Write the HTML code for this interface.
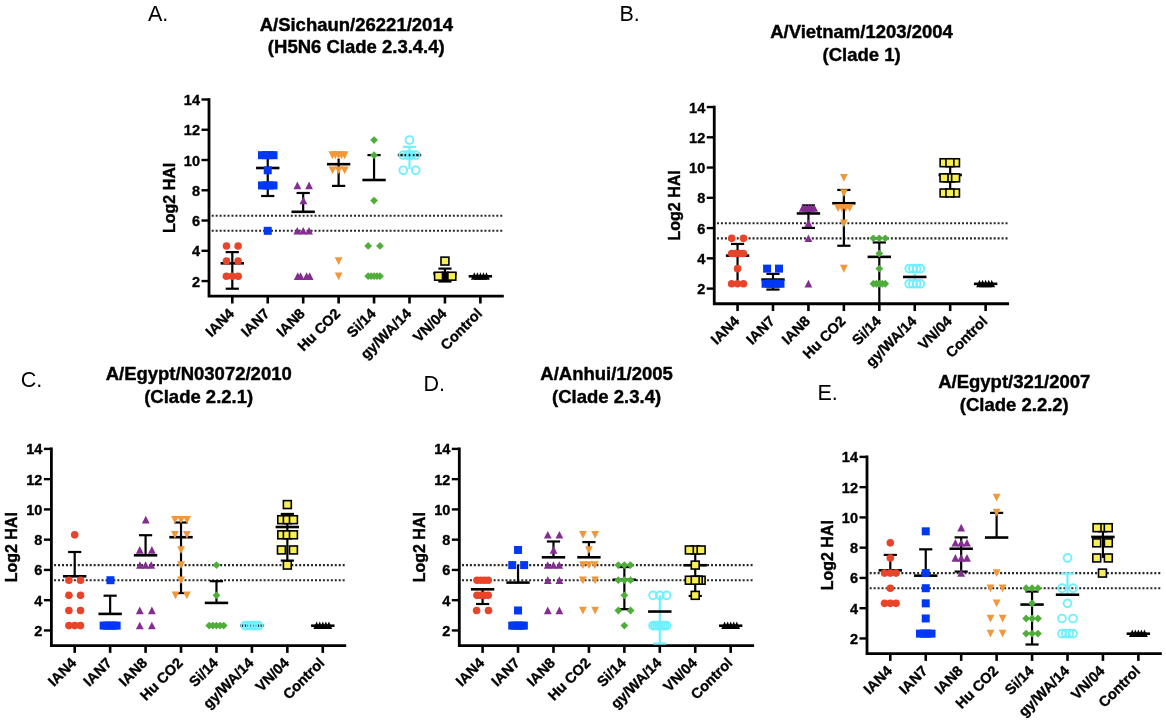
<!DOCTYPE html>
<html><head><meta charset="utf-8"><style>
html,body{margin:0;padding:0;background:#fff;}
svg{display:block;will-change:transform;}
text{font-family:"Liberation Sans",sans-serif;}
.tt{font-size:18.5px;font-weight:bold;text-anchor:middle;stroke:#000;stroke-width:0.4px;}
.lt{font-size:21.5px;}
.yl{font-size:16px;font-weight:bold;text-anchor:middle;stroke:#000;stroke-width:0.4px;}
.tk{font-size:14.5px;font-weight:bold;text-anchor:end;stroke:#000;stroke-width:0.35px;}
.xl{font-size:14.5px;font-weight:bold;text-anchor:end;stroke:#000;stroke-width:0.35px;}
</style></head><body>
<svg width="1166" height="724" viewBox="0 0 1166 724">
<rect width="1166" height="724" fill="#fff"/>
<text x="356.3" y="30.8" class="tt">A/Sichaun/26221/2014</text>
<text x="356.3" y="53.3" class="tt">(H5N6 Clade 2.3.4.4)</text>
<text x="148" y="20.9" class="lt">A.</text>
<text transform="translate(174.9 197.84) rotate(-90)" class="yl">Log2 HAI</text>
<line x1="211.7" y1="215.69" x2="502.3" y2="215.69" stroke="#262626" stroke-width="2.1" stroke-dasharray="2 1.953"/>
<line x1="211.7" y1="230.82" x2="502.3" y2="230.82" stroke="#262626" stroke-width="2.1" stroke-dasharray="2 1.953"/>
<path d="M209 98.19V296.2H503.8" fill="none" stroke="#000" stroke-width="2.8" stroke-linejoin="miter"/>
<line x1="201.5" y1="281.05" x2="209" y2="281.05" stroke="#000" stroke-width="2.4"/>
<text x="200" y="286.55" class="tk">2</text>
<line x1="201.5" y1="250.79" x2="209" y2="250.79" stroke="#000" stroke-width="2.4"/>
<text x="200" y="256.29" class="tk">4</text>
<line x1="201.5" y1="220.53" x2="209" y2="220.53" stroke="#000" stroke-width="2.4"/>
<text x="200" y="226.03" class="tk">6</text>
<line x1="201.5" y1="190.27" x2="209" y2="190.27" stroke="#000" stroke-width="2.4"/>
<text x="200" y="195.77" class="tk">8</text>
<line x1="201.5" y1="160.01" x2="209" y2="160.01" stroke="#000" stroke-width="2.4"/>
<text x="200" y="165.51" class="tk">10</text>
<line x1="201.5" y1="129.75" x2="209" y2="129.75" stroke="#000" stroke-width="2.4"/>
<text x="200" y="135.25" class="tk">12</text>
<line x1="201.5" y1="99.49" x2="209" y2="99.49" stroke="#000" stroke-width="2.4"/>
<text x="200" y="104.99" class="tk">14</text>
<line x1="232.3" y1="296.2" x2="232.3" y2="303.5" stroke="#000" stroke-width="2.6"/>
<text transform="translate(234.9 314.5) rotate(-45)" class="xl">IAN4</text>
<line x1="267.74" y1="296.2" x2="267.74" y2="303.5" stroke="#000" stroke-width="2.6"/>
<text transform="translate(270.34 314.5) rotate(-45)" class="xl">IAN7</text>
<line x1="303.18" y1="296.2" x2="303.18" y2="303.5" stroke="#000" stroke-width="2.6"/>
<text transform="translate(305.78 314.5) rotate(-45)" class="xl">IAN8</text>
<line x1="338.62" y1="296.2" x2="338.62" y2="303.5" stroke="#000" stroke-width="2.6"/>
<text transform="translate(341.22 314.5) rotate(-45)" class="xl">Hu CO2</text>
<line x1="374.06" y1="296.2" x2="374.06" y2="303.5" stroke="#000" stroke-width="2.6"/>
<text transform="translate(376.66 314.5) rotate(-45)" class="xl">Si/14</text>
<line x1="409.5" y1="296.2" x2="409.5" y2="303.5" stroke="#000" stroke-width="2.6"/>
<text transform="translate(412.1 314.5) rotate(-45)" class="xl">gy/WA/14</text>
<line x1="444.94" y1="296.2" x2="444.94" y2="303.5" stroke="#000" stroke-width="2.6"/>
<text transform="translate(447.54 314.5) rotate(-45)" class="xl">VN/04</text>
<line x1="480.38" y1="296.2" x2="480.38" y2="303.5" stroke="#000" stroke-width="2.6"/>
<text transform="translate(482.98 314.5) rotate(-45)" class="xl">Control</text>
<line x1="232.3" y1="252.11" x2="232.3" y2="288.71" stroke="#000" stroke-width="2.2"/>
<line x1="225.7" y1="252.11" x2="238.9" y2="252.11" stroke="#000" stroke-width="2.2"/>
<line x1="225.7" y1="288.71" x2="238.9" y2="288.71" stroke="#000" stroke-width="2.2"/>
<line x1="220.6" y1="263.3" x2="244" y2="263.3" stroke="#000" stroke-width="2.6"/>
<circle cx="226.5" cy="245.95" r="3.8" fill="#e8442a"/>
<circle cx="238.1" cy="245.95" r="3.8" fill="#e8442a"/>
<circle cx="226.5" cy="261.08" r="3.8" fill="#e8442a"/>
<circle cx="238.1" cy="261.08" r="3.8" fill="#e8442a"/>
<circle cx="226.4" cy="276.21" r="3.8" fill="#e8442a"/>
<circle cx="232.3" cy="276.21" r="3.8" fill="#e8442a"/>
<circle cx="238.2" cy="276.21" r="3.8" fill="#e8442a"/>
<line x1="267.74" y1="155.02" x2="267.74" y2="196" stroke="#000" stroke-width="2.2"/>
<line x1="261.14" y1="196" x2="274.34" y2="196" stroke="#000" stroke-width="2.2"/>
<line x1="256.04" y1="168" x2="279.44" y2="168" stroke="#000" stroke-width="2.6"/>
<rect x="257.99" y="151.17" width="8" height="8" fill="#0237f3"/>
<rect x="261.82" y="151.17" width="8" height="8" fill="#0237f3"/>
<rect x="265.66" y="151.17" width="8" height="8" fill="#0237f3"/>
<rect x="269.49" y="151.17" width="8" height="8" fill="#0237f3"/>
<rect x="263.74" y="166.3" width="8" height="8" fill="#0237f3"/>
<rect x="257.99" y="181.43" width="8" height="8" fill="#0237f3"/>
<rect x="261.82" y="181.43" width="8" height="8" fill="#0237f3"/>
<rect x="265.66" y="181.43" width="8" height="8" fill="#0237f3"/>
<rect x="269.49" y="181.43" width="8" height="8" fill="#0237f3"/>
<rect x="263.74" y="226.82" width="8" height="8" fill="#0237f3"/>
<line x1="303.18" y1="192.99" x2="303.18" y2="211.8" stroke="#000" stroke-width="2.2"/>
<line x1="296.58" y1="192.99" x2="309.78" y2="192.99" stroke="#000" stroke-width="2.2"/>
<line x1="291.48" y1="211.8" x2="314.88" y2="211.8" stroke="#000" stroke-width="2.6"/>
<path d="M297.38 181.53L301.28 189.13L293.48 189.13Z" fill="#842d91"/>
<path d="M309.08 181.53L312.98 189.13L305.18 189.13Z" fill="#842d91"/>
<path d="M303.38 196.66L307.28 204.26L299.48 204.26Z" fill="#842d91"/>
<path d="M297.28 226.92L301.18 234.52L293.38 234.52Z" fill="#842d91"/>
<path d="M303.18 226.92L307.08 234.52L299.28 234.52Z" fill="#842d91"/>
<path d="M309.08 226.92L312.98 234.52L305.18 234.52Z" fill="#842d91"/>
<path d="M297.68 272.31L301.58 279.91L293.78 279.91Z" fill="#842d91"/>
<path d="M300.58 272.31L304.48 279.91L296.68 279.91Z" fill="#842d91"/>
<path d="M306.58 272.31L310.48 279.91L302.68 279.91Z" fill="#842d91"/>
<path d="M309.68 272.31L313.58 279.91L305.78 279.91Z" fill="#842d91"/>
<line x1="338.62" y1="158.5" x2="338.62" y2="185.9" stroke="#000" stroke-width="2.2"/>
<line x1="332.02" y1="185.9" x2="345.22" y2="185.9" stroke="#000" stroke-width="2.2"/>
<line x1="326.92" y1="164.2" x2="350.32" y2="164.2" stroke="#000" stroke-width="2.6"/>
<path d="M328.52 151.37L336.32 151.37L332.42 159.17Z" fill="#f0983a"/>
<path d="M331.42 151.37L339.22 151.37L335.32 159.17Z" fill="#f0983a"/>
<path d="M334.72 151.37L342.52 151.37L338.62 159.17Z" fill="#f0983a"/>
<path d="M337.62 151.37L345.42 151.37L341.52 159.17Z" fill="#f0983a"/>
<path d="M340.72 151.37L348.52 151.37L344.62 159.17Z" fill="#f0983a"/>
<path d="M328.62 166.5L336.42 166.5L332.52 174.3Z" fill="#f0983a"/>
<path d="M334.72 166.5L342.52 166.5L338.62 174.3Z" fill="#f0983a"/>
<path d="M340.82 166.5L348.62 166.5L344.72 174.3Z" fill="#f0983a"/>
<path d="M334.72 257.28L342.52 257.28L338.62 265.08Z" fill="#f0983a"/>
<path d="M334.72 272.41L342.52 272.41L338.62 280.21Z" fill="#f0983a"/>
<line x1="374.06" y1="155.09" x2="374.06" y2="180" stroke="#000" stroke-width="2.2"/>
<line x1="367.46" y1="155.09" x2="380.66" y2="155.09" stroke="#000" stroke-width="2.2"/>
<line x1="362.36" y1="180" x2="385.76" y2="180" stroke="#000" stroke-width="2.6"/>
<path d="M374.06 136.14L377.96 140.04L374.06 143.94L370.16 140.04Z" fill="#4fae3a"/>
<path d="M374.06 151.27L377.96 155.17L374.06 159.07L370.16 155.17Z" fill="#4fae3a"/>
<path d="M374.06 196.66L377.96 200.56L374.06 204.46L370.16 200.56Z" fill="#4fae3a"/>
<path d="M368.16 242.05L372.06 245.95L368.16 249.85L364.26 245.95Z" fill="#4fae3a"/>
<path d="M379.96 242.05L383.86 245.95L379.96 249.85L376.06 245.95Z" fill="#4fae3a"/>
<path d="M368.16 272.31L372.06 276.21L368.16 280.11L364.26 276.21Z" fill="#4fae3a"/>
<path d="M371.11 272.31L375.01 276.21L371.11 280.11L367.21 276.21Z" fill="#4fae3a"/>
<path d="M374.06 272.31L377.96 276.21L374.06 280.11L370.16 276.21Z" fill="#4fae3a"/>
<path d="M377.01 272.31L380.91 276.21L377.01 280.11L373.11 276.21Z" fill="#4fae3a"/>
<path d="M379.96 272.31L383.86 276.21L379.96 280.11L376.06 276.21Z" fill="#4fae3a"/>
<line x1="409.5" y1="146.85" x2="409.5" y2="169.09" stroke="#70f0ff" stroke-width="2.2"/>
<line x1="402.9" y1="146.85" x2="416.1" y2="146.85" stroke="#70f0ff" stroke-width="2.2"/>
<line x1="397.8" y1="155.09" x2="421.2" y2="155.09" stroke="#000" stroke-width="2.6"/>
<circle cx="409.5" cy="140.04" r="3.9" fill="none" stroke="#70f0ff" stroke-width="1.9"/>
<circle cx="403.3" cy="155.17" r="3.9" fill="none" stroke="#70f0ff" stroke-width="1.9"/>
<circle cx="407.43" cy="155.17" r="3.9" fill="none" stroke="#70f0ff" stroke-width="1.9"/>
<circle cx="411.57" cy="155.17" r="3.9" fill="none" stroke="#70f0ff" stroke-width="1.9"/>
<circle cx="415.7" cy="155.17" r="3.9" fill="none" stroke="#70f0ff" stroke-width="1.9"/>
<circle cx="403.3" cy="170.3" r="3.9" fill="none" stroke="#70f0ff" stroke-width="1.9"/>
<circle cx="415.7" cy="170.3" r="3.9" fill="none" stroke="#70f0ff" stroke-width="1.9"/>
<line x1="444.94" y1="268.6" x2="444.94" y2="281.5" stroke="#000" stroke-width="2.2"/>
<line x1="438.34" y1="268.6" x2="451.54" y2="268.6" stroke="#000" stroke-width="2.2"/>
<line x1="438.34" y1="281.5" x2="451.54" y2="281.5" stroke="#000" stroke-width="2.2"/>
<line x1="433.24" y1="273.49" x2="456.64" y2="273.49" stroke="#000" stroke-width="2.6"/>
<rect x="440.99" y="257.13" width="7.9" height="7.9" fill="#f8ef55" stroke="#000" stroke-width="1.6"/>
<rect x="441.64" y="271.46" width="7" height="9.5" fill="#000"/>
<rect x="434.59" y="272.26" width="7.9" height="7.9" fill="#f8ef55" stroke="#000" stroke-width="1.6"/>
<rect x="447.89" y="272.26" width="7.9" height="7.9" fill="#f8ef55" stroke="#000" stroke-width="1.6"/>
<line x1="468.68" y1="276.3" x2="492.08" y2="276.3" stroke="#000" stroke-width="2.6"/>
<path d="M474.28 272.21L477.58 279.71L470.98 279.71Z" fill="#000"/>
<path d="M477.33 272.21L480.63 279.71L474.03 279.71Z" fill="#000"/>
<path d="M480.38 272.21L483.68 279.71L477.08 279.71Z" fill="#000"/>
<path d="M483.43 272.21L486.73 279.71L480.13 279.71Z" fill="#000"/>
<path d="M486.48 272.21L489.78 279.71L483.18 279.71Z" fill="#000"/>
<text x="861.55" y="38" class="tt">A/Vietnam/1203/2004</text>
<text x="861.55" y="60.5" class="tt">(Clade 1)</text>
<text x="619.5" y="20.5" class="lt">B.</text>
<text transform="translate(680.15 205.4) rotate(-90)" class="yl">Log2 HAI</text>
<line x1="716.95" y1="223.24" x2="1007.55" y2="223.24" stroke="#262626" stroke-width="2.1" stroke-dasharray="2 1.953"/>
<line x1="716.95" y1="238.37" x2="1007.55" y2="238.37" stroke="#262626" stroke-width="2.1" stroke-dasharray="2 1.953"/>
<path d="M714.25 105.74V303.75H1009.05" fill="none" stroke="#000" stroke-width="2.8" stroke-linejoin="miter"/>
<line x1="706.75" y1="288.6" x2="714.25" y2="288.6" stroke="#000" stroke-width="2.4"/>
<text x="705.25" y="294.1" class="tk">2</text>
<line x1="706.75" y1="258.34" x2="714.25" y2="258.34" stroke="#000" stroke-width="2.4"/>
<text x="705.25" y="263.84" class="tk">4</text>
<line x1="706.75" y1="228.08" x2="714.25" y2="228.08" stroke="#000" stroke-width="2.4"/>
<text x="705.25" y="233.58" class="tk">6</text>
<line x1="706.75" y1="197.82" x2="714.25" y2="197.82" stroke="#000" stroke-width="2.4"/>
<text x="705.25" y="203.32" class="tk">8</text>
<line x1="706.75" y1="167.56" x2="714.25" y2="167.56" stroke="#000" stroke-width="2.4"/>
<text x="705.25" y="173.06" class="tk">10</text>
<line x1="706.75" y1="137.3" x2="714.25" y2="137.3" stroke="#000" stroke-width="2.4"/>
<text x="705.25" y="142.8" class="tk">12</text>
<line x1="706.75" y1="107.04" x2="714.25" y2="107.04" stroke="#000" stroke-width="2.4"/>
<text x="705.25" y="112.54" class="tk">14</text>
<line x1="737.55" y1="303.75" x2="737.55" y2="311.05" stroke="#000" stroke-width="2.6"/>
<text transform="translate(740.15 322.05) rotate(-45)" class="xl">IAN4</text>
<line x1="772.99" y1="303.75" x2="772.99" y2="311.05" stroke="#000" stroke-width="2.6"/>
<text transform="translate(775.59 322.05) rotate(-45)" class="xl">IAN7</text>
<line x1="808.43" y1="303.75" x2="808.43" y2="311.05" stroke="#000" stroke-width="2.6"/>
<text transform="translate(811.03 322.05) rotate(-45)" class="xl">IAN8</text>
<line x1="843.87" y1="303.75" x2="843.87" y2="311.05" stroke="#000" stroke-width="2.6"/>
<text transform="translate(846.47 322.05) rotate(-45)" class="xl">Hu CO2</text>
<line x1="879.31" y1="303.75" x2="879.31" y2="311.05" stroke="#000" stroke-width="2.6"/>
<text transform="translate(881.91 322.05) rotate(-45)" class="xl">Si/14</text>
<line x1="914.75" y1="303.75" x2="914.75" y2="311.05" stroke="#000" stroke-width="2.6"/>
<text transform="translate(917.35 322.05) rotate(-45)" class="xl">gy/WA/14</text>
<line x1="950.19" y1="303.75" x2="950.19" y2="311.05" stroke="#000" stroke-width="2.6"/>
<text transform="translate(952.79 322.05) rotate(-45)" class="xl">VN/04</text>
<line x1="985.63" y1="303.75" x2="985.63" y2="311.05" stroke="#000" stroke-width="2.6"/>
<text transform="translate(988.23 322.05) rotate(-45)" class="xl">Control</text>
<line x1="737.55" y1="243.95" x2="737.55" y2="283.76" stroke="#000" stroke-width="2.2"/>
<line x1="730.95" y1="243.95" x2="744.15" y2="243.95" stroke="#000" stroke-width="2.2"/>
<line x1="725.85" y1="255.65" x2="749.25" y2="255.65" stroke="#000" stroke-width="2.6"/>
<circle cx="731.7" cy="238.37" r="3.8" fill="#e8442a"/>
<circle cx="743.5" cy="238.37" r="3.8" fill="#e8442a"/>
<circle cx="731.7" cy="253.5" r="3.8" fill="#e8442a"/>
<circle cx="735.6" cy="253.5" r="3.8" fill="#e8442a"/>
<circle cx="739.5" cy="253.5" r="3.8" fill="#e8442a"/>
<circle cx="743.4" cy="253.5" r="3.8" fill="#e8442a"/>
<circle cx="737.55" cy="268.63" r="3.8" fill="#e8442a"/>
<circle cx="731.65" cy="283.76" r="3.8" fill="#e8442a"/>
<circle cx="737.55" cy="283.76" r="3.8" fill="#e8442a"/>
<circle cx="743.45" cy="283.76" r="3.8" fill="#e8442a"/>
<line x1="772.99" y1="273.85" x2="772.99" y2="289.55" stroke="#000" stroke-width="2.2"/>
<line x1="766.39" y1="273.85" x2="779.59" y2="273.85" stroke="#000" stroke-width="2.2"/>
<line x1="766.39" y1="289.55" x2="779.59" y2="289.55" stroke="#000" stroke-width="2.2"/>
<line x1="761.29" y1="279.55" x2="784.69" y2="279.55" stroke="#000" stroke-width="2.6"/>
<rect x="763.09" y="264.63" width="8" height="8" fill="#0237f3"/>
<rect x="774.99" y="264.63" width="8" height="8" fill="#0237f3"/>
<rect x="761.54" y="279.76" width="8" height="8" fill="#0237f3"/>
<rect x="765.26" y="279.76" width="8" height="8" fill="#0237f3"/>
<rect x="768.99" y="279.76" width="8" height="8" fill="#0237f3"/>
<rect x="772.72" y="279.76" width="8" height="8" fill="#0237f3"/>
<rect x="776.44" y="279.76" width="8" height="8" fill="#0237f3"/>
<line x1="808.43" y1="205.39" x2="808.43" y2="227.94" stroke="#000" stroke-width="2.2"/>
<line x1="801.83" y1="205.39" x2="815.03" y2="205.39" stroke="#000" stroke-width="2.2"/>
<line x1="801.83" y1="227.94" x2="815.03" y2="227.94" stroke="#000" stroke-width="2.2"/>
<line x1="796.73" y1="213.45" x2="820.13" y2="213.45" stroke="#000" stroke-width="2.6"/>
<path d="M802.68 204.21L806.58 211.81L798.78 211.81Z" fill="#842d91"/>
<path d="M805.55 204.21L809.45 211.81L801.65 211.81Z" fill="#842d91"/>
<path d="M808.43 204.21L812.33 211.81L804.53 211.81Z" fill="#842d91"/>
<path d="M811.3 204.21L815.2 211.81L807.4 211.81Z" fill="#842d91"/>
<path d="M814.18 204.21L818.08 211.81L810.28 211.81Z" fill="#842d91"/>
<path d="M808.43 219.34L812.33 226.94L804.53 226.94Z" fill="#842d91"/>
<path d="M808.43 234.47L812.33 242.07L804.53 242.07Z" fill="#842d91"/>
<path d="M808.43 279.86L812.33 287.46L804.53 287.46Z" fill="#842d91"/>
<line x1="843.87" y1="189.95" x2="843.87" y2="245.75" stroke="#000" stroke-width="2.2"/>
<line x1="837.27" y1="189.95" x2="850.47" y2="189.95" stroke="#000" stroke-width="2.2"/>
<line x1="837.27" y1="245.75" x2="850.47" y2="245.75" stroke="#000" stroke-width="2.2"/>
<line x1="832.17" y1="203.25" x2="855.57" y2="203.25" stroke="#000" stroke-width="2.6"/>
<path d="M839.97 174.05L847.77 174.05L843.87 181.85Z" fill="#f0983a"/>
<path d="M839.97 189.18L847.77 189.18L843.87 196.98Z" fill="#f0983a"/>
<path d="M834.17 204.31L841.97 204.31L838.07 212.11Z" fill="#f0983a"/>
<path d="M838.04 204.31L845.84 204.31L841.94 212.11Z" fill="#f0983a"/>
<path d="M841.9 204.31L849.7 204.31L845.8 212.11Z" fill="#f0983a"/>
<path d="M845.77 204.31L853.57 204.31L849.67 212.11Z" fill="#f0983a"/>
<path d="M839.97 219.44L847.77 219.44L843.87 227.24Z" fill="#f0983a"/>
<path d="M839.97 264.83L847.77 264.83L843.87 272.63Z" fill="#f0983a"/>
<line x1="879.31" y1="242.45" x2="879.31" y2="303.73" stroke="#000" stroke-width="2.2"/>
<line x1="872.71" y1="242.45" x2="885.91" y2="242.45" stroke="#000" stroke-width="2.2"/>
<line x1="867.61" y1="256.86" x2="891.01" y2="256.86" stroke="#000" stroke-width="2.6"/>
<path d="M873.31 234.47L877.21 238.37L873.31 242.27L869.41 238.37Z" fill="#4fae3a"/>
<path d="M879.31 234.47L883.21 238.37L879.31 242.27L875.41 238.37Z" fill="#4fae3a"/>
<path d="M885.31 234.47L889.21 238.37L885.31 242.27L881.41 238.37Z" fill="#4fae3a"/>
<path d="M879.31 249.6L883.21 253.5L879.31 257.4L875.41 253.5Z" fill="#4fae3a"/>
<path d="M879.31 264.73L883.21 268.63L879.31 272.53L875.41 268.63Z" fill="#4fae3a"/>
<path d="M873.41 279.86L877.31 283.76L873.41 287.66L869.51 283.76Z" fill="#4fae3a"/>
<path d="M876.36 279.86L880.26 283.76L876.36 287.66L872.46 283.76Z" fill="#4fae3a"/>
<path d="M879.31 279.86L883.21 283.76L879.31 287.66L875.41 283.76Z" fill="#4fae3a"/>
<path d="M882.26 279.86L886.16 283.76L882.26 287.66L878.36 283.76Z" fill="#4fae3a"/>
<path d="M885.21 279.86L889.11 283.76L885.21 287.66L881.31 283.76Z" fill="#4fae3a"/>
<line x1="914.75" y1="273.47" x2="914.75" y2="281.04" stroke="#70f0ff" stroke-width="2.2"/>
<line x1="903.05" y1="276.95" x2="926.45" y2="276.95" stroke="#000" stroke-width="2.6"/>
<circle cx="909.2" cy="268.63" r="3.9" fill="none" stroke="#70f0ff" stroke-width="1.9"/>
<circle cx="912.9" cy="268.63" r="3.9" fill="none" stroke="#70f0ff" stroke-width="1.9"/>
<circle cx="916.6" cy="268.63" r="3.9" fill="none" stroke="#70f0ff" stroke-width="1.9"/>
<circle cx="920.3" cy="268.63" r="3.9" fill="none" stroke="#70f0ff" stroke-width="1.9"/>
<circle cx="909.2" cy="283.76" r="3.9" fill="none" stroke="#70f0ff" stroke-width="1.9"/>
<circle cx="912.9" cy="283.76" r="3.9" fill="none" stroke="#70f0ff" stroke-width="1.9"/>
<circle cx="916.6" cy="283.76" r="3.9" fill="none" stroke="#70f0ff" stroke-width="1.9"/>
<circle cx="920.3" cy="283.76" r="3.9" fill="none" stroke="#70f0ff" stroke-width="1.9"/>
<line x1="950.19" y1="162.72" x2="950.19" y2="192.98" stroke="#000" stroke-width="2.2"/>
<line x1="938.49" y1="174.97" x2="961.89" y2="174.97" stroke="#000" stroke-width="2.6"/>
<rect x="940.14" y="158.77" width="7.9" height="7.9" fill="#f8ef55" stroke="#000" stroke-width="1.6"/>
<rect x="951.54" y="158.77" width="7.9" height="7.9" fill="#f8ef55" stroke="#000" stroke-width="1.6"/>
<rect x="945.94" y="158.77" width="7.9" height="7.9" fill="#f8ef55" stroke="#000" stroke-width="1.6"/>
<rect x="943.74" y="173.9" width="7.9" height="7.9" fill="#f8ef55" stroke="#000" stroke-width="1.6"/>
<rect x="947.74" y="173.9" width="7.9" height="7.9" fill="#f8ef55" stroke="#000" stroke-width="1.6"/>
<rect x="940.04" y="173.9" width="7.9" height="7.9" fill="#f8ef55" stroke="#000" stroke-width="1.6"/>
<rect x="951.64" y="173.9" width="7.9" height="7.9" fill="#f8ef55" stroke="#000" stroke-width="1.6"/>
<rect x="940.14" y="189.03" width="7.9" height="7.9" fill="#f8ef55" stroke="#000" stroke-width="1.6"/>
<rect x="951.54" y="189.03" width="7.9" height="7.9" fill="#f8ef55" stroke="#000" stroke-width="1.6"/>
<rect x="945.94" y="189.03" width="7.9" height="7.9" fill="#f8ef55" stroke="#000" stroke-width="1.6"/>
<line x1="973.93" y1="283.85" x2="997.33" y2="283.85" stroke="#000" stroke-width="2.6"/>
<path d="M979.53 279.76L982.83 287.26L976.23 287.26Z" fill="#000"/>
<path d="M982.58 279.76L985.88 287.26L979.28 287.26Z" fill="#000"/>
<path d="M985.63 279.76L988.93 287.26L982.33 287.26Z" fill="#000"/>
<path d="M988.68 279.76L991.98 287.26L985.38 287.26Z" fill="#000"/>
<path d="M991.73 279.76L995.03 287.26L988.43 287.26Z" fill="#000"/>
<text x="198.7" y="380.2" class="tt">A/Egypt/N03072/2010</text>
<text x="198.7" y="402.7" class="tt">(Clade 2.2.1)</text>
<text x="20.8" y="387.2" class="lt">C.</text>
<text transform="translate(17.3 547.25) rotate(-90)" class="yl">Log2 HAI</text>
<line x1="54.1" y1="565.09" x2="344.7" y2="565.09" stroke="#262626" stroke-width="2.1" stroke-dasharray="2 1.953"/>
<line x1="54.1" y1="580.22" x2="344.7" y2="580.22" stroke="#262626" stroke-width="2.1" stroke-dasharray="2 1.953"/>
<path d="M51.4 447.59V645.6H346.2" fill="none" stroke="#000" stroke-width="2.8" stroke-linejoin="miter"/>
<line x1="43.9" y1="630.45" x2="51.4" y2="630.45" stroke="#000" stroke-width="2.4"/>
<text x="42.4" y="635.95" class="tk">2</text>
<line x1="43.9" y1="600.19" x2="51.4" y2="600.19" stroke="#000" stroke-width="2.4"/>
<text x="42.4" y="605.69" class="tk">4</text>
<line x1="43.9" y1="569.93" x2="51.4" y2="569.93" stroke="#000" stroke-width="2.4"/>
<text x="42.4" y="575.43" class="tk">6</text>
<line x1="43.9" y1="539.67" x2="51.4" y2="539.67" stroke="#000" stroke-width="2.4"/>
<text x="42.4" y="545.17" class="tk">8</text>
<line x1="43.9" y1="509.41" x2="51.4" y2="509.41" stroke="#000" stroke-width="2.4"/>
<text x="42.4" y="514.91" class="tk">10</text>
<line x1="43.9" y1="479.15" x2="51.4" y2="479.15" stroke="#000" stroke-width="2.4"/>
<text x="42.4" y="484.65" class="tk">12</text>
<line x1="43.9" y1="448.89" x2="51.4" y2="448.89" stroke="#000" stroke-width="2.4"/>
<text x="42.4" y="454.39" class="tk">14</text>
<line x1="74.7" y1="645.6" x2="74.7" y2="652.9" stroke="#000" stroke-width="2.6"/>
<text transform="translate(77.3 663.9) rotate(-45)" class="xl">IAN4</text>
<line x1="110.14" y1="645.6" x2="110.14" y2="652.9" stroke="#000" stroke-width="2.6"/>
<text transform="translate(112.74 663.9) rotate(-45)" class="xl">IAN7</text>
<line x1="145.58" y1="645.6" x2="145.58" y2="652.9" stroke="#000" stroke-width="2.6"/>
<text transform="translate(148.18 663.9) rotate(-45)" class="xl">IAN8</text>
<line x1="181.02" y1="645.6" x2="181.02" y2="652.9" stroke="#000" stroke-width="2.6"/>
<text transform="translate(183.62 663.9) rotate(-45)" class="xl">Hu CO2</text>
<line x1="216.46" y1="645.6" x2="216.46" y2="652.9" stroke="#000" stroke-width="2.6"/>
<text transform="translate(219.06 663.9) rotate(-45)" class="xl">Si/14</text>
<line x1="251.9" y1="645.6" x2="251.9" y2="652.9" stroke="#000" stroke-width="2.6"/>
<text transform="translate(254.5 663.9) rotate(-45)" class="xl">gy/WA/14</text>
<line x1="287.34" y1="645.6" x2="287.34" y2="652.9" stroke="#000" stroke-width="2.6"/>
<text transform="translate(289.94 663.9) rotate(-45)" class="xl">VN/04</text>
<line x1="322.78" y1="645.6" x2="322.78" y2="652.9" stroke="#000" stroke-width="2.6"/>
<text transform="translate(325.38 663.9) rotate(-45)" class="xl">Control</text>
<line x1="74.7" y1="552" x2="74.7" y2="576.3" stroke="#000" stroke-width="2.2"/>
<line x1="68.1" y1="552" x2="81.3" y2="552" stroke="#000" stroke-width="2.2"/>
<line x1="63" y1="576.3" x2="86.4" y2="576.3" stroke="#000" stroke-width="2.6"/>
<circle cx="74.7" cy="534.83" r="3.8" fill="#e8442a"/>
<circle cx="68.9" cy="580.22" r="3.8" fill="#e8442a"/>
<circle cx="80.5" cy="580.22" r="3.8" fill="#e8442a"/>
<circle cx="68.9" cy="595.35" r="3.8" fill="#e8442a"/>
<circle cx="80.5" cy="595.35" r="3.8" fill="#e8442a"/>
<circle cx="68.9" cy="610.48" r="3.8" fill="#e8442a"/>
<circle cx="80.5" cy="610.48" r="3.8" fill="#e8442a"/>
<circle cx="68.9" cy="625.61" r="3.8" fill="#e8442a"/>
<circle cx="74.7" cy="625.61" r="3.8" fill="#e8442a"/>
<circle cx="80.5" cy="625.61" r="3.8" fill="#e8442a"/>
<line x1="110.14" y1="595.7" x2="110.14" y2="613.9" stroke="#000" stroke-width="2.2"/>
<line x1="103.54" y1="595.7" x2="116.74" y2="595.7" stroke="#000" stroke-width="2.2"/>
<line x1="98.44" y1="613.9" x2="121.84" y2="613.9" stroke="#000" stroke-width="2.6"/>
<rect x="106.44" y="576.22" width="8" height="8" fill="#0237f3"/>
<rect x="99.64" y="621.61" width="8" height="8" fill="#0237f3"/>
<rect x="102.89" y="621.61" width="8" height="8" fill="#0237f3"/>
<rect x="106.14" y="621.61" width="8" height="8" fill="#0237f3"/>
<rect x="109.39" y="621.61" width="8" height="8" fill="#0237f3"/>
<rect x="112.64" y="621.61" width="8" height="8" fill="#0237f3"/>
<line x1="145.58" y1="535.21" x2="145.58" y2="555.3" stroke="#000" stroke-width="2.2"/>
<line x1="138.98" y1="535.21" x2="152.18" y2="535.21" stroke="#000" stroke-width="2.2"/>
<line x1="133.88" y1="555.3" x2="157.28" y2="555.3" stroke="#000" stroke-width="2.6"/>
<path d="M145.78 515.8L149.68 523.4L141.88 523.4Z" fill="#842d91"/>
<path d="M139.78 546.06L143.68 553.66L135.88 553.66Z" fill="#842d91"/>
<path d="M151.88 546.06L155.78 553.66L147.98 553.66Z" fill="#842d91"/>
<path d="M139.93 561.19L143.83 568.79L136.03 568.79Z" fill="#842d91"/>
<path d="M145.58 561.19L149.48 568.79L141.68 568.79Z" fill="#842d91"/>
<path d="M151.23 561.19L155.13 568.79L147.33 568.79Z" fill="#842d91"/>
<path d="M139.78 606.58L143.68 614.18L135.88 614.18Z" fill="#842d91"/>
<path d="M151.88 606.58L155.78 614.18L147.98 614.18Z" fill="#842d91"/>
<path d="M139.78 621.71L143.68 629.31L135.88 629.31Z" fill="#842d91"/>
<path d="M151.88 621.71L155.78 629.31L147.98 629.31Z" fill="#842d91"/>
<line x1="181.02" y1="522.5" x2="181.02" y2="593.08" stroke="#000" stroke-width="2.2"/>
<line x1="174.42" y1="522.5" x2="187.62" y2="522.5" stroke="#000" stroke-width="2.2"/>
<line x1="174.42" y1="593.08" x2="187.62" y2="593.08" stroke="#000" stroke-width="2.2"/>
<line x1="169.32" y1="537.2" x2="192.72" y2="537.2" stroke="#000" stroke-width="2.6"/>
<path d="M171.12 515.9L178.92 515.9L175.02 523.7Z" fill="#f0983a"/>
<path d="M177.12 515.9L184.92 515.9L181.02 523.7Z" fill="#f0983a"/>
<path d="M183.12 515.9L190.92 515.9L187.02 523.7Z" fill="#f0983a"/>
<path d="M171.02 531.03L178.82 531.03L174.92 538.83Z" fill="#f0983a"/>
<path d="M183.02 531.03L190.82 531.03L186.92 538.83Z" fill="#f0983a"/>
<path d="M177.12 546.16L184.92 546.16L181.02 553.96Z" fill="#f0983a"/>
<path d="M177.12 561.29L184.92 561.29L181.02 569.09Z" fill="#f0983a"/>
<path d="M177.12 576.42L184.92 576.42L181.02 584.22Z" fill="#f0983a"/>
<path d="M171.62 591.55L179.42 591.55L175.52 599.35Z" fill="#f0983a"/>
<path d="M183.02 591.55L190.82 591.55L186.92 599.35Z" fill="#f0983a"/>
<line x1="216.46" y1="581.2" x2="216.46" y2="602.91" stroke="#000" stroke-width="2.2"/>
<line x1="209.86" y1="581.2" x2="223.06" y2="581.2" stroke="#000" stroke-width="2.2"/>
<line x1="204.76" y1="602.91" x2="228.16" y2="602.91" stroke="#000" stroke-width="2.6"/>
<path d="M216.46 561.19L220.36 565.09L216.46 568.99L212.56 565.09Z" fill="#4fae3a"/>
<path d="M216.46 591.45L220.36 595.35L216.46 599.25L212.56 595.35Z" fill="#4fae3a"/>
<path d="M209.21 621.71L213.11 625.61L209.21 629.51L205.31 625.61Z" fill="#4fae3a"/>
<path d="M212.84 621.71L216.74 625.61L212.84 629.51L208.94 625.61Z" fill="#4fae3a"/>
<path d="M216.46 621.71L220.36 625.61L216.46 629.51L212.56 625.61Z" fill="#4fae3a"/>
<path d="M220.09 621.71L223.99 625.61L220.09 629.51L216.19 625.61Z" fill="#4fae3a"/>
<path d="M223.71 621.71L227.61 625.61L223.71 629.51L219.81 625.61Z" fill="#4fae3a"/>
<line x1="240.2" y1="625.61" x2="263.6" y2="625.61" stroke="#000" stroke-width="2.6"/>
<circle cx="245.1" cy="625.61" r="3.9" fill="none" stroke="#70f0ff" stroke-width="1.9"/>
<circle cx="247.82" cy="625.61" r="3.9" fill="none" stroke="#70f0ff" stroke-width="1.9"/>
<circle cx="250.54" cy="625.61" r="3.9" fill="none" stroke="#70f0ff" stroke-width="1.9"/>
<circle cx="253.26" cy="625.61" r="3.9" fill="none" stroke="#70f0ff" stroke-width="1.9"/>
<circle cx="255.98" cy="625.61" r="3.9" fill="none" stroke="#70f0ff" stroke-width="1.9"/>
<circle cx="258.7" cy="625.61" r="3.9" fill="none" stroke="#70f0ff" stroke-width="1.9"/>
<line x1="287.34" y1="513.95" x2="287.34" y2="560.59" stroke="#000" stroke-width="2.2"/>
<line x1="280.74" y1="513.95" x2="293.94" y2="513.95" stroke="#000" stroke-width="2.2"/>
<line x1="280.74" y1="560.59" x2="293.94" y2="560.59" stroke="#000" stroke-width="2.2"/>
<line x1="275.64" y1="527.02" x2="299.04" y2="527.02" stroke="#000" stroke-width="2.6"/>
<rect x="283.39" y="500.62" width="7.9" height="7.9" fill="#f8ef55" stroke="#000" stroke-width="1.6"/>
<rect x="277.79" y="515.75" width="7.9" height="7.9" fill="#f8ef55" stroke="#000" stroke-width="1.6"/>
<rect x="283.39" y="515.75" width="7.9" height="7.9" fill="#f8ef55" stroke="#000" stroke-width="1.6"/>
<rect x="289.49" y="515.75" width="7.9" height="7.9" fill="#f8ef55" stroke="#000" stroke-width="1.6"/>
<rect x="277.79" y="530.88" width="7.9" height="7.9" fill="#f8ef55" stroke="#000" stroke-width="1.6"/>
<rect x="283.39" y="530.88" width="7.9" height="7.9" fill="#f8ef55" stroke="#000" stroke-width="1.6"/>
<rect x="289.49" y="530.88" width="7.9" height="7.9" fill="#f8ef55" stroke="#000" stroke-width="1.6"/>
<rect x="277.49" y="546.01" width="7.9" height="7.9" fill="#f8ef55" stroke="#000" stroke-width="1.6"/>
<rect x="289.49" y="546.01" width="7.9" height="7.9" fill="#f8ef55" stroke="#000" stroke-width="1.6"/>
<rect x="283.39" y="561.14" width="7.9" height="7.9" fill="#f8ef55" stroke="#000" stroke-width="1.6"/>
<line x1="311.08" y1="625.7" x2="334.48" y2="625.7" stroke="#000" stroke-width="2.6"/>
<path d="M316.68 621.61L319.98 629.11L313.38 629.11Z" fill="#000"/>
<path d="M319.73 621.61L323.03 629.11L316.43 629.11Z" fill="#000"/>
<path d="M322.78 621.61L326.08 629.11L319.48 629.11Z" fill="#000"/>
<path d="M325.83 621.61L329.13 629.11L322.53 629.11Z" fill="#000"/>
<path d="M328.88 621.61L332.18 629.11L325.58 629.11Z" fill="#000"/>
<text x="606.6" y="380.2" class="tt">A/Anhui/1/2005</text>
<text x="606.6" y="402.7" class="tt">(Clade 2.3.4)</text>
<text x="423.5" y="391.3" class="lt">D.</text>
<text transform="translate(425.2 547.25) rotate(-90)" class="yl">Log2 HAI</text>
<line x1="462" y1="565.09" x2="752.6" y2="565.09" stroke="#262626" stroke-width="2.1" stroke-dasharray="2 1.953"/>
<line x1="462" y1="580.22" x2="752.6" y2="580.22" stroke="#262626" stroke-width="2.1" stroke-dasharray="2 1.953"/>
<path d="M459.3 447.59V645.6H754.1" fill="none" stroke="#000" stroke-width="2.8" stroke-linejoin="miter"/>
<line x1="451.8" y1="630.45" x2="459.3" y2="630.45" stroke="#000" stroke-width="2.4"/>
<text x="450.3" y="635.95" class="tk">2</text>
<line x1="451.8" y1="600.19" x2="459.3" y2="600.19" stroke="#000" stroke-width="2.4"/>
<text x="450.3" y="605.69" class="tk">4</text>
<line x1="451.8" y1="569.93" x2="459.3" y2="569.93" stroke="#000" stroke-width="2.4"/>
<text x="450.3" y="575.43" class="tk">6</text>
<line x1="451.8" y1="539.67" x2="459.3" y2="539.67" stroke="#000" stroke-width="2.4"/>
<text x="450.3" y="545.17" class="tk">8</text>
<line x1="451.8" y1="509.41" x2="459.3" y2="509.41" stroke="#000" stroke-width="2.4"/>
<text x="450.3" y="514.91" class="tk">10</text>
<line x1="451.8" y1="479.15" x2="459.3" y2="479.15" stroke="#000" stroke-width="2.4"/>
<text x="450.3" y="484.65" class="tk">12</text>
<line x1="451.8" y1="448.89" x2="459.3" y2="448.89" stroke="#000" stroke-width="2.4"/>
<text x="450.3" y="454.39" class="tk">14</text>
<line x1="482.6" y1="645.6" x2="482.6" y2="652.9" stroke="#000" stroke-width="2.6"/>
<text transform="translate(485.2 663.9) rotate(-45)" class="xl">IAN4</text>
<line x1="518.04" y1="645.6" x2="518.04" y2="652.9" stroke="#000" stroke-width="2.6"/>
<text transform="translate(520.64 663.9) rotate(-45)" class="xl">IAN7</text>
<line x1="553.48" y1="645.6" x2="553.48" y2="652.9" stroke="#000" stroke-width="2.6"/>
<text transform="translate(556.08 663.9) rotate(-45)" class="xl">IAN8</text>
<line x1="588.92" y1="645.6" x2="588.92" y2="652.9" stroke="#000" stroke-width="2.6"/>
<text transform="translate(591.52 663.9) rotate(-45)" class="xl">Hu CO2</text>
<line x1="624.36" y1="645.6" x2="624.36" y2="652.9" stroke="#000" stroke-width="2.6"/>
<text transform="translate(626.96 663.9) rotate(-45)" class="xl">Si/14</text>
<line x1="659.8" y1="645.6" x2="659.8" y2="652.9" stroke="#000" stroke-width="2.6"/>
<text transform="translate(662.4 663.9) rotate(-45)" class="xl">gy/WA/14</text>
<line x1="695.24" y1="645.6" x2="695.24" y2="652.9" stroke="#000" stroke-width="2.6"/>
<text transform="translate(697.84 663.9) rotate(-45)" class="xl">VN/04</text>
<line x1="730.68" y1="645.6" x2="730.68" y2="652.9" stroke="#000" stroke-width="2.6"/>
<text transform="translate(733.28 663.9) rotate(-45)" class="xl">Control</text>
<line x1="482.6" y1="589.3" x2="482.6" y2="604" stroke="#000" stroke-width="2.2"/>
<line x1="476" y1="604" x2="489.2" y2="604" stroke="#000" stroke-width="2.2"/>
<line x1="470.9" y1="589.3" x2="494.3" y2="589.3" stroke="#000" stroke-width="2.6"/>
<circle cx="477" cy="580.22" r="3.8" fill="#e8442a"/>
<circle cx="480.73" cy="580.22" r="3.8" fill="#e8442a"/>
<circle cx="484.47" cy="580.22" r="3.8" fill="#e8442a"/>
<circle cx="488.2" cy="580.22" r="3.8" fill="#e8442a"/>
<circle cx="477" cy="595.35" r="3.8" fill="#e8442a"/>
<circle cx="480.73" cy="595.35" r="3.8" fill="#e8442a"/>
<circle cx="484.47" cy="595.35" r="3.8" fill="#e8442a"/>
<circle cx="488.2" cy="595.35" r="3.8" fill="#e8442a"/>
<circle cx="476.6" cy="610.48" r="3.8" fill="#e8442a"/>
<circle cx="488.5" cy="610.48" r="3.8" fill="#e8442a"/>
<line x1="518.04" y1="565.09" x2="518.04" y2="582.59" stroke="#000" stroke-width="2.2"/>
<line x1="506.34" y1="582.59" x2="529.74" y2="582.59" stroke="#000" stroke-width="2.6"/>
<rect x="514.04" y="545.96" width="8" height="8" fill="#0237f3"/>
<rect x="508.24" y="561.09" width="8" height="8" fill="#0237f3"/>
<rect x="520.14" y="561.09" width="8" height="8" fill="#0237f3"/>
<rect x="514.04" y="606.48" width="8" height="8" fill="#0237f3"/>
<rect x="508.24" y="621.61" width="8" height="8" fill="#0237f3"/>
<rect x="511.14" y="621.61" width="8" height="8" fill="#0237f3"/>
<rect x="514.04" y="621.61" width="8" height="8" fill="#0237f3"/>
<rect x="516.94" y="621.61" width="8" height="8" fill="#0237f3"/>
<rect x="519.84" y="621.61" width="8" height="8" fill="#0237f3"/>
<line x1="553.48" y1="541.49" x2="553.48" y2="557.3" stroke="#000" stroke-width="2.2"/>
<line x1="546.88" y1="541.49" x2="560.08" y2="541.49" stroke="#000" stroke-width="2.2"/>
<line x1="541.78" y1="557.3" x2="565.18" y2="557.3" stroke="#000" stroke-width="2.6"/>
<path d="M547.78 530.93L551.68 538.53L543.88 538.53Z" fill="#842d91"/>
<path d="M559.38 530.93L563.28 538.53L555.48 538.53Z" fill="#842d91"/>
<path d="M553.58 546.06L557.48 553.66L549.68 553.66Z" fill="#842d91"/>
<path d="M547.68 561.19L551.58 568.79L543.78 568.79Z" fill="#842d91"/>
<path d="M553.48 561.19L557.38 568.79L549.58 568.79Z" fill="#842d91"/>
<path d="M559.28 561.19L563.18 568.79L555.38 568.79Z" fill="#842d91"/>
<path d="M547.78 576.32L551.68 583.92L543.88 583.92Z" fill="#842d91"/>
<path d="M559.38 576.32L563.28 583.92L555.48 583.92Z" fill="#842d91"/>
<path d="M547.78 606.58L551.68 614.18L543.88 614.18Z" fill="#842d91"/>
<path d="M559.38 606.58L563.28 614.18L555.48 614.18Z" fill="#842d91"/>
<line x1="588.92" y1="542.09" x2="588.92" y2="557.3" stroke="#000" stroke-width="2.2"/>
<line x1="582.32" y1="542.09" x2="595.52" y2="542.09" stroke="#000" stroke-width="2.2"/>
<line x1="577.22" y1="557.3" x2="600.62" y2="557.3" stroke="#000" stroke-width="2.6"/>
<path d="M579.02 531.03L586.82 531.03L582.92 538.83Z" fill="#f0983a"/>
<path d="M591.22 531.03L599.02 531.03L595.12 538.83Z" fill="#f0983a"/>
<path d="M585.02 546.16L592.82 546.16L588.92 553.96Z" fill="#f0983a"/>
<path d="M579.12 561.29L586.92 561.29L583.02 569.09Z" fill="#f0983a"/>
<path d="M585.02 561.29L592.82 561.29L588.92 569.09Z" fill="#f0983a"/>
<path d="M590.92 561.29L598.72 561.29L594.82 569.09Z" fill="#f0983a"/>
<path d="M579.02 576.42L586.82 576.42L582.92 584.22Z" fill="#f0983a"/>
<path d="M591.22 576.42L599.02 576.42L595.12 584.22Z" fill="#f0983a"/>
<path d="M579.02 606.68L586.82 606.68L582.92 614.48Z" fill="#f0983a"/>
<path d="M591.22 606.68L599.02 606.68L595.12 614.48Z" fill="#f0983a"/>
<line x1="624.36" y1="567.06" x2="624.36" y2="609.21" stroke="#000" stroke-width="2.2"/>
<line x1="617.76" y1="567.06" x2="630.96" y2="567.06" stroke="#000" stroke-width="2.2"/>
<line x1="617.76" y1="609.21" x2="630.96" y2="609.21" stroke="#000" stroke-width="2.2"/>
<line x1="612.66" y1="579.76" x2="636.06" y2="579.76" stroke="#000" stroke-width="2.6"/>
<path d="M618.26 561.19L622.16 565.09L618.26 568.99L614.36 565.09Z" fill="#4fae3a"/>
<path d="M624.36 561.19L628.26 565.09L624.36 568.99L620.46 565.09Z" fill="#4fae3a"/>
<path d="M630.46 561.19L634.36 565.09L630.46 568.99L626.56 565.09Z" fill="#4fae3a"/>
<path d="M618.26 576.32L622.16 580.22L618.26 584.12L614.36 580.22Z" fill="#4fae3a"/>
<path d="M624.36 576.32L628.26 580.22L624.36 584.12L620.46 580.22Z" fill="#4fae3a"/>
<path d="M630.46 576.32L634.36 580.22L630.46 584.12L626.56 580.22Z" fill="#4fae3a"/>
<path d="M624.36 591.45L628.26 595.35L624.36 599.25L620.46 595.35Z" fill="#4fae3a"/>
<path d="M618.36 606.58L622.26 610.48L618.36 614.38L614.46 610.48Z" fill="#4fae3a"/>
<path d="M630.56 606.58L634.46 610.48L630.56 614.38L626.66 610.48Z" fill="#4fae3a"/>
<path d="M624.36 621.71L628.26 625.61L624.36 629.51L620.46 625.61Z" fill="#4fae3a"/>
<line x1="659.8" y1="595.35" x2="659.8" y2="643.54" stroke="#70f0ff" stroke-width="2.2"/>
<line x1="653.2" y1="643.54" x2="666.4" y2="643.54" stroke="#70f0ff" stroke-width="2.2"/>
<line x1="648.1" y1="611.54" x2="671.5" y2="611.54" stroke="#000" stroke-width="2.6"/>
<circle cx="653.05" cy="595.35" r="3.9" fill="none" stroke="#70f0ff" stroke-width="1.9"/>
<circle cx="659.8" cy="595.35" r="3.9" fill="none" stroke="#70f0ff" stroke-width="1.9"/>
<circle cx="666.55" cy="595.35" r="3.9" fill="none" stroke="#70f0ff" stroke-width="1.9"/>
<circle cx="653.05" cy="625.61" r="3.9" fill="none" stroke="#70f0ff" stroke-width="1.9"/>
<circle cx="654.98" cy="625.61" r="3.9" fill="none" stroke="#70f0ff" stroke-width="1.9"/>
<circle cx="656.91" cy="625.61" r="3.9" fill="none" stroke="#70f0ff" stroke-width="1.9"/>
<circle cx="658.84" cy="625.61" r="3.9" fill="none" stroke="#70f0ff" stroke-width="1.9"/>
<circle cx="660.76" cy="625.61" r="3.9" fill="none" stroke="#70f0ff" stroke-width="1.9"/>
<circle cx="662.69" cy="625.61" r="3.9" fill="none" stroke="#70f0ff" stroke-width="1.9"/>
<circle cx="664.62" cy="625.61" r="3.9" fill="none" stroke="#70f0ff" stroke-width="1.9"/>
<circle cx="666.55" cy="625.61" r="3.9" fill="none" stroke="#70f0ff" stroke-width="1.9"/>
<line x1="695.24" y1="549.96" x2="695.24" y2="595.95" stroke="#000" stroke-width="2.2"/>
<line x1="688.64" y1="595.95" x2="701.84" y2="595.95" stroke="#000" stroke-width="2.2"/>
<line x1="683.54" y1="565.24" x2="706.94" y2="565.24" stroke="#000" stroke-width="2.6"/>
<rect x="691.29" y="546.01" width="7.9" height="7.9" fill="#f8ef55" stroke="#000" stroke-width="1.6"/>
<rect x="685.39" y="546.01" width="7.9" height="7.9" fill="#f8ef55" stroke="#000" stroke-width="1.6"/>
<rect x="697.19" y="546.01" width="7.9" height="7.9" fill="#f8ef55" stroke="#000" stroke-width="1.6"/>
<rect x="691.29" y="561.14" width="7.9" height="7.9" fill="#f8ef55" stroke="#000" stroke-width="1.6"/>
<rect x="697.19" y="576.27" width="7.9" height="7.9" fill="#f8ef55" stroke="#000" stroke-width="1.6"/>
<rect x="694.29" y="576.27" width="7.9" height="7.9" fill="#f8ef55" stroke="#000" stroke-width="1.6"/>
<rect x="685.39" y="576.27" width="7.9" height="7.9" fill="#f8ef55" stroke="#000" stroke-width="1.6"/>
<rect x="691.29" y="576.27" width="7.9" height="7.9" fill="#f8ef55" stroke="#000" stroke-width="1.6"/>
<rect x="691.29" y="591.4" width="7.9" height="7.9" fill="#f8ef55" stroke="#000" stroke-width="1.6"/>
<line x1="718.98" y1="625.7" x2="742.38" y2="625.7" stroke="#000" stroke-width="2.6"/>
<path d="M724.58 621.61L727.88 629.11L721.28 629.11Z" fill="#000"/>
<path d="M727.63 621.61L730.93 629.11L724.33 629.11Z" fill="#000"/>
<path d="M730.68 621.61L733.98 629.11L727.38 629.11Z" fill="#000"/>
<path d="M733.73 621.61L737.03 629.11L730.43 629.11Z" fill="#000"/>
<path d="M736.78 621.61L740.08 629.11L733.48 629.11Z" fill="#000"/>
<text x="1014.3" y="388.2" class="tt">A/Egypt/321/2007</text>
<text x="1014.3" y="410.7" class="tt">(Clade 2.2.2)</text>
<text x="817.5" y="399.5" class="lt">E.</text>
<text transform="translate(832.9 555.25) rotate(-90)" class="yl">Log2 HAI</text>
<line x1="869.7" y1="573.09" x2="1160.3" y2="573.09" stroke="#262626" stroke-width="2.1" stroke-dasharray="2 1.953"/>
<line x1="869.7" y1="588.22" x2="1160.3" y2="588.22" stroke="#262626" stroke-width="2.1" stroke-dasharray="2 1.953"/>
<path d="M867 455.59V653.6H1161.8" fill="none" stroke="#000" stroke-width="2.8" stroke-linejoin="miter"/>
<line x1="859.5" y1="638.45" x2="867" y2="638.45" stroke="#000" stroke-width="2.4"/>
<text x="858" y="643.95" class="tk">2</text>
<line x1="859.5" y1="608.19" x2="867" y2="608.19" stroke="#000" stroke-width="2.4"/>
<text x="858" y="613.69" class="tk">4</text>
<line x1="859.5" y1="577.93" x2="867" y2="577.93" stroke="#000" stroke-width="2.4"/>
<text x="858" y="583.43" class="tk">6</text>
<line x1="859.5" y1="547.67" x2="867" y2="547.67" stroke="#000" stroke-width="2.4"/>
<text x="858" y="553.17" class="tk">8</text>
<line x1="859.5" y1="517.41" x2="867" y2="517.41" stroke="#000" stroke-width="2.4"/>
<text x="858" y="522.91" class="tk">10</text>
<line x1="859.5" y1="487.15" x2="867" y2="487.15" stroke="#000" stroke-width="2.4"/>
<text x="858" y="492.65" class="tk">12</text>
<line x1="859.5" y1="456.89" x2="867" y2="456.89" stroke="#000" stroke-width="2.4"/>
<text x="858" y="462.39" class="tk">14</text>
<line x1="890.3" y1="653.6" x2="890.3" y2="660.9" stroke="#000" stroke-width="2.6"/>
<text transform="translate(892.9 671.9) rotate(-45)" class="xl">IAN4</text>
<line x1="925.74" y1="653.6" x2="925.74" y2="660.9" stroke="#000" stroke-width="2.6"/>
<text transform="translate(928.34 671.9) rotate(-45)" class="xl">IAN7</text>
<line x1="961.18" y1="653.6" x2="961.18" y2="660.9" stroke="#000" stroke-width="2.6"/>
<text transform="translate(963.78 671.9) rotate(-45)" class="xl">IAN8</text>
<line x1="996.62" y1="653.6" x2="996.62" y2="660.9" stroke="#000" stroke-width="2.6"/>
<text transform="translate(999.22 671.9) rotate(-45)" class="xl">Hu CO2</text>
<line x1="1032.06" y1="653.6" x2="1032.06" y2="660.9" stroke="#000" stroke-width="2.6"/>
<text transform="translate(1034.66 671.9) rotate(-45)" class="xl">Si/14</text>
<line x1="1067.5" y1="653.6" x2="1067.5" y2="660.9" stroke="#000" stroke-width="2.6"/>
<text transform="translate(1070.1 671.9) rotate(-45)" class="xl">gy/WA/14</text>
<line x1="1102.94" y1="653.6" x2="1102.94" y2="660.9" stroke="#000" stroke-width="2.6"/>
<text transform="translate(1105.54 671.9) rotate(-45)" class="xl">VN/04</text>
<line x1="1138.38" y1="653.6" x2="1138.38" y2="660.9" stroke="#000" stroke-width="2.6"/>
<text transform="translate(1140.98 671.9) rotate(-45)" class="xl">Control</text>
<line x1="890.3" y1="554.93" x2="890.3" y2="570.37" stroke="#000" stroke-width="2.2"/>
<line x1="883.7" y1="554.93" x2="896.9" y2="554.93" stroke="#000" stroke-width="2.2"/>
<line x1="878.6" y1="570.37" x2="902" y2="570.37" stroke="#000" stroke-width="2.6"/>
<circle cx="890.3" cy="542.83" r="3.8" fill="#e8442a"/>
<circle cx="890.3" cy="557.96" r="3.8" fill="#e8442a"/>
<circle cx="884.55" cy="573.09" r="3.8" fill="#e8442a"/>
<circle cx="890.3" cy="573.09" r="3.8" fill="#e8442a"/>
<circle cx="896.05" cy="573.09" r="3.8" fill="#e8442a"/>
<circle cx="890.3" cy="588.22" r="3.8" fill="#e8442a"/>
<circle cx="884.55" cy="603.35" r="3.8" fill="#e8442a"/>
<circle cx="890.3" cy="603.35" r="3.8" fill="#e8442a"/>
<circle cx="896.05" cy="603.35" r="3.8" fill="#e8442a"/>
<line x1="925.74" y1="549.33" x2="925.74" y2="575.66" stroke="#000" stroke-width="2.2"/>
<line x1="919.14" y1="549.33" x2="932.34" y2="549.33" stroke="#000" stroke-width="2.2"/>
<line x1="914.04" y1="575.66" x2="937.44" y2="575.66" stroke="#000" stroke-width="2.6"/>
<rect x="921.74" y="527.33" width="8" height="8" fill="#0237f3"/>
<rect x="921.74" y="569.09" width="8" height="8" fill="#0237f3"/>
<rect x="921.74" y="584.22" width="8" height="8" fill="#0237f3"/>
<rect x="921.74" y="599.35" width="8" height="8" fill="#0237f3"/>
<rect x="921.74" y="614.48" width="8" height="8" fill="#0237f3"/>
<rect x="915.99" y="629.61" width="8" height="8" fill="#0237f3"/>
<rect x="919.82" y="629.61" width="8" height="8" fill="#0237f3"/>
<rect x="923.66" y="629.61" width="8" height="8" fill="#0237f3"/>
<rect x="927.49" y="629.61" width="8" height="8" fill="#0237f3"/>
<line x1="961.18" y1="537.38" x2="961.18" y2="571.58" stroke="#000" stroke-width="2.2"/>
<line x1="954.58" y1="537.38" x2="967.78" y2="537.38" stroke="#000" stroke-width="2.2"/>
<line x1="954.58" y1="571.58" x2="967.78" y2="571.58" stroke="#000" stroke-width="2.2"/>
<line x1="949.48" y1="548.73" x2="972.88" y2="548.73" stroke="#000" stroke-width="2.6"/>
<path d="M961.18 523.8L965.08 531.4L957.28 531.4Z" fill="#842d91"/>
<path d="M955.38 538.93L959.28 546.53L951.48 546.53Z" fill="#842d91"/>
<path d="M961.18 538.93L965.08 546.53L957.28 546.53Z" fill="#842d91"/>
<path d="M966.98 538.93L970.88 546.53L963.08 546.53Z" fill="#842d91"/>
<path d="M955.38 554.06L959.28 561.66L951.48 561.66Z" fill="#842d91"/>
<path d="M961.18 554.06L965.08 561.66L957.28 561.66Z" fill="#842d91"/>
<path d="M966.98 554.06L970.88 561.66L963.08 561.66Z" fill="#842d91"/>
<path d="M961.18 569.19L965.08 576.79L957.28 576.79Z" fill="#842d91"/>
<line x1="996.62" y1="512.87" x2="996.62" y2="537.53" stroke="#000" stroke-width="2.2"/>
<line x1="990.02" y1="512.87" x2="1003.22" y2="512.87" stroke="#000" stroke-width="2.2"/>
<line x1="984.92" y1="537.53" x2="1008.32" y2="537.53" stroke="#000" stroke-width="2.6"/>
<path d="M992.72 493.64L1000.52 493.64L996.62 501.44Z" fill="#f0983a"/>
<path d="M992.72 508.77L1000.52 508.77L996.62 516.57Z" fill="#f0983a"/>
<path d="M992.72 569.29L1000.52 569.29L996.62 577.09Z" fill="#f0983a"/>
<path d="M986.62 584.42L994.42 584.42L990.52 592.22Z" fill="#f0983a"/>
<path d="M998.72 584.42L1006.52 584.42L1002.62 592.22Z" fill="#f0983a"/>
<path d="M992.72 599.55L1000.52 599.55L996.62 607.35Z" fill="#f0983a"/>
<path d="M986.62 614.68L994.42 614.68L990.52 622.48Z" fill="#f0983a"/>
<path d="M998.72 614.68L1006.52 614.68L1002.62 622.48Z" fill="#f0983a"/>
<path d="M986.62 629.81L994.42 629.81L990.52 637.61Z" fill="#f0983a"/>
<path d="M998.72 629.81L1006.52 629.81L1002.62 637.61Z" fill="#f0983a"/>
<line x1="1032.06" y1="591.55" x2="1032.06" y2="644.5" stroke="#000" stroke-width="2.2"/>
<line x1="1025.46" y1="591.55" x2="1038.66" y2="591.55" stroke="#000" stroke-width="2.2"/>
<line x1="1025.46" y1="644.5" x2="1038.66" y2="644.5" stroke="#000" stroke-width="2.2"/>
<line x1="1020.36" y1="604.56" x2="1043.76" y2="604.56" stroke="#000" stroke-width="2.6"/>
<path d="M1026.16 584.32L1030.06 588.22L1026.16 592.12L1022.26 588.22Z" fill="#4fae3a"/>
<path d="M1032.06 584.32L1035.96 588.22L1032.06 592.12L1028.16 588.22Z" fill="#4fae3a"/>
<path d="M1037.96 584.32L1041.86 588.22L1037.96 592.12L1034.06 588.22Z" fill="#4fae3a"/>
<path d="M1032.06 599.45L1035.96 603.35L1032.06 607.25L1028.16 603.35Z" fill="#4fae3a"/>
<path d="M1026.16 614.58L1030.06 618.48L1026.16 622.38L1022.26 618.48Z" fill="#4fae3a"/>
<path d="M1032.06 614.58L1035.96 618.48L1032.06 622.38L1028.16 618.48Z" fill="#4fae3a"/>
<path d="M1037.96 614.58L1041.86 618.48L1037.96 622.38L1034.06 618.48Z" fill="#4fae3a"/>
<path d="M1026.16 629.71L1030.06 633.61L1026.16 637.51L1022.26 633.61Z" fill="#4fae3a"/>
<path d="M1032.06 629.71L1035.96 633.61L1032.06 637.51L1028.16 633.61Z" fill="#4fae3a"/>
<path d="M1037.96 629.71L1041.86 633.61L1037.96 637.51L1034.06 633.61Z" fill="#4fae3a"/>
<line x1="1067.5" y1="573.54" x2="1067.5" y2="594.72" stroke="#70f0ff" stroke-width="2.2"/>
<line x1="1060.9" y1="573.54" x2="1074.1" y2="573.54" stroke="#70f0ff" stroke-width="2.2"/>
<line x1="1055.8" y1="594.72" x2="1079.2" y2="594.72" stroke="#000" stroke-width="2.6"/>
<circle cx="1067.5" cy="557.96" r="3.9" fill="none" stroke="#70f0ff" stroke-width="1.9"/>
<circle cx="1062" cy="588.22" r="3.9" fill="none" stroke="#70f0ff" stroke-width="1.9"/>
<circle cx="1073" cy="588.22" r="3.9" fill="none" stroke="#70f0ff" stroke-width="1.9"/>
<circle cx="1067.5" cy="603.35" r="3.9" fill="none" stroke="#70f0ff" stroke-width="1.9"/>
<circle cx="1062" cy="618.48" r="3.9" fill="none" stroke="#70f0ff" stroke-width="1.9"/>
<circle cx="1073" cy="618.48" r="3.9" fill="none" stroke="#70f0ff" stroke-width="1.9"/>
<circle cx="1062" cy="633.61" r="3.9" fill="none" stroke="#70f0ff" stroke-width="1.9"/>
<circle cx="1065.67" cy="633.61" r="3.9" fill="none" stroke="#70f0ff" stroke-width="1.9"/>
<circle cx="1069.33" cy="633.61" r="3.9" fill="none" stroke="#70f0ff" stroke-width="1.9"/>
<circle cx="1073" cy="633.61" r="3.9" fill="none" stroke="#70f0ff" stroke-width="1.9"/>
<line x1="1102.94" y1="527.7" x2="1102.94" y2="557.96" stroke="#000" stroke-width="2.2"/>
<line x1="1091.24" y1="536.93" x2="1114.64" y2="536.93" stroke="#000" stroke-width="2.6"/>
<rect x="1098.69" y="523.75" width="7.9" height="7.9" fill="#f8ef55" stroke="#000" stroke-width="1.6"/>
<rect x="1093.09" y="523.75" width="7.9" height="7.9" fill="#f8ef55" stroke="#000" stroke-width="1.6"/>
<rect x="1104.29" y="523.75" width="7.9" height="7.9" fill="#f8ef55" stroke="#000" stroke-width="1.6"/>
<rect x="1092.79" y="538.88" width="7.9" height="7.9" fill="#f8ef55" stroke="#000" stroke-width="1.6"/>
<rect x="1104.39" y="538.88" width="7.9" height="7.9" fill="#f8ef55" stroke="#000" stroke-width="1.6"/>
<rect x="1092.79" y="554.01" width="7.9" height="7.9" fill="#f8ef55" stroke="#000" stroke-width="1.6"/>
<rect x="1104.39" y="554.01" width="7.9" height="7.9" fill="#f8ef55" stroke="#000" stroke-width="1.6"/>
<rect x="1098.49" y="569.14" width="7.9" height="7.9" fill="#f8ef55" stroke="#000" stroke-width="1.6"/>
<line x1="1126.68" y1="633.7" x2="1150.08" y2="633.7" stroke="#000" stroke-width="2.6"/>
<path d="M1132.28 629.61L1135.58 637.11L1128.98 637.11Z" fill="#000"/>
<path d="M1135.33 629.61L1138.63 637.11L1132.03 637.11Z" fill="#000"/>
<path d="M1138.38 629.61L1141.68 637.11L1135.08 637.11Z" fill="#000"/>
<path d="M1141.43 629.61L1144.73 637.11L1138.13 637.11Z" fill="#000"/>
<path d="M1144.48 629.61L1147.78 637.11L1141.18 637.11Z" fill="#000"/>
</svg></body></html>
